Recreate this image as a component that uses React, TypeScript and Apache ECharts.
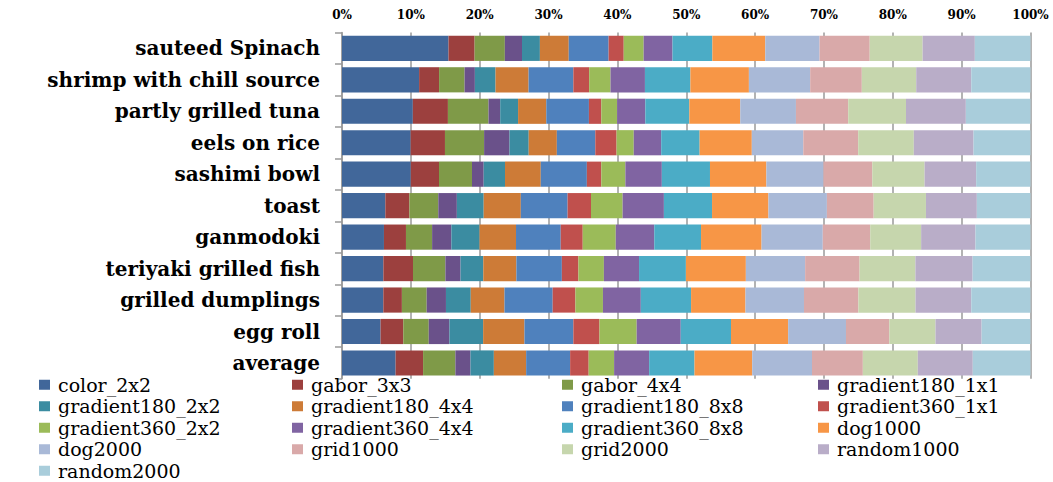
import React, { useEffect, useRef } from "react";
import * as echarts from "echarts";

const categories = [
  "sauteed Spinach",
  "shrimp with chill source",
  "partly grilled tuna",
  "eels on rice",
  "sashimi bowl",
  "toast",
  "ganmodoki",
  "teriyaki grilled fish",
  "grilled dumplings",
  "egg roll",
  "average",
];

const seriesNames = [
  "color_2x2", "gabor_3x3", "gabor_4x4", "gradient180_1x1",
  "gradient180_2x2", "gradient180_4x4", "gradient180_8x8", "gradient360_1x1",
  "gradient360_2x2", "gradient360_4x4", "gradient360_8x8", "dog1000",
  "dog2000", "grid1000", "grid2000", "random1000",
  "random2000",
];

const color_2x2 = [15.5, 11.2, 10.3, 10.0, 10.0, 6.3, 6.1, 6.0, 6.0, 5.6, 7.8];
const gabor_3x3 = [3.8, 2.9, 5.1, 5.0, 4.1, 3.5, 3.2, 4.3, 2.7, 3.3, 4.0];
const gabor_4x4 = [4.4, 3.7, 5.9, 5.7, 4.8, 4.2, 3.8, 4.7, 3.6, 3.7, 4.7];
const gradient180_1x1 = [2.5, 1.5, 1.7, 3.7, 1.7, 2.7, 2.8, 2.2, 2.8, 3.0, 2.2];
const gradient180_2x2 = [2.6, 3.0, 2.6, 2.8, 3.1, 3.9, 4.1, 3.3, 3.6, 4.9, 3.4];
const gradient180_4x4 = [4.2, 4.8, 4.1, 4.1, 5.2, 5.4, 5.3, 4.8, 4.9, 6.0, 4.7];
const gradient180_8x8 = [5.8, 6.5, 6.2, 5.6, 6.7, 6.8, 6.5, 6.6, 7.0, 7.1, 6.4];
const gradient360_1x1 = [2.2, 2.3, 1.8, 3.1, 2.1, 3.4, 3.2, 2.4, 3.3, 3.8, 2.7];
const gradient360_2x2 = [2.9, 3.1, 2.3, 2.5, 3.5, 4.6, 4.8, 3.7, 4.0, 5.4, 3.7];
const gradient360_4x4 = [4.2, 5.0, 4.1, 4.0, 5.3, 6.0, 5.6, 5.1, 5.5, 6.4, 5.1];
const gradient360_8x8 = [5.8, 6.6, 6.4, 5.6, 7.0, 7.0, 6.8, 6.8, 7.3, 7.3, 6.6];
const dog1000 = [7.7, 8.5, 7.4, 7.6, 8.2, 8.2, 8.8, 8.7, 7.9, 8.3, 8.4];
const dog2000 = [7.9, 8.9, 8.1, 7.5, 8.3, 8.5, 8.9, 8.6, 8.5, 8.4, 8.7];
const grid1000 = [7.3, 7.5, 7.6, 8.0, 7.1, 6.8, 6.9, 7.9, 7.9, 6.3, 7.4];
const grid2000 = [7.7, 7.9, 8.4, 8.1, 7.6, 7.6, 7.4, 8.1, 8.3, 6.7, 8.0];
const random1000 = [7.6, 8.0, 8.7, 8.7, 7.5, 7.4, 7.9, 8.3, 8.1, 6.7, 8.0];
const random2000 = [8.1, 8.6, 9.4, 8.3, 7.9, 7.8, 8.0, 8.4, 8.6, 7.1, 8.4];

const seriesValues = [
  color_2x2, gabor_3x3, gabor_4x4, gradient180_1x1,
  gradient180_2x2, gradient180_4x4, gradient180_8x8, gradient360_1x1,
  gradient360_2x2, gradient360_4x4, gradient360_8x8, dog1000,
  dog2000, grid1000, grid2000, random1000,
  random2000,
];

const colors = [
  "#41679A", "#9C403E", "#7F9A48", "#6A518A",
  "#3B8CA1", "#CD7B37", "#4F81BD", "#C0504D",
  "#9BBB59", "#8064A2", "#4BACC6", "#F79646",
  "#A9B9D7", "#D9A9A9", "#C6D6AD", "#B9ADC8",
  "#A9CDDB",
];

const xTicks = [0, 10, 20, 30, 40, 50, 60, 70, 80, 90, 100];

const legendColumns = [
  ["color_2x2", "gradient180_2x2", "gradient360_2x2", "dog2000", "random2000"],
  ["gabor_3x3", "gradient180_4x4", "gradient360_4x4", "grid1000"],
  ["gabor_4x4", "gradient180_8x8", "gradient360_8x8", "grid2000"],
  ["gradient180_1x1", "gradient360_1x1", "dog1000", "random1000"],
];
const legendLefts = [39, 292, 562, 818];

export default function App() {
  const ref = useRef<HTMLDivElement>(null);

  useEffect(() => {
    if (!ref.current) return;
    const chart = echarts.init(ref.current, null, { renderer: "svg" });

    const totals = categories.map((_, i) =>
      seriesValues.reduce((s, arr) => s + arr[i], 0)
    );

    const serif = "DejaVu Serif";

    const option: any = {
      animation: false,
      color: colors,
      grid: { left: 342, right: 22.5, top: 32.6, bottom: 103.3, containLabel: false },
      xAxis: {
        type: "value",
        position: "top",
        min: xTicks[0],
        max: xTicks[xTicks.length - 1],
        interval: 10,
        axisLine: { show: false },
        axisTick: { show: false },
        splitLine: { show: true, lineStyle: { color: "#9a9a9a", width: 1.5 } },
        axisLabel: {
          margin: 12,
          formatter: "{value}%",
          fontFamily: serif,
          fontWeight: "bold",
          fontSize: 12,
          color: "#000",
        },
      },
      yAxis: {
        type: "category",
        data: categories,
        inverse: true,
        axisLine: { show: true, lineStyle: { color: "#9a9a9a", width: 1.5 } },
        axisTick: { show: true, length: 7, lineStyle: { color: "#9a9a9a", width: 1.5 } },
        axisLabel: {
          margin: 22,
          fontFamily: serif,
          fontWeight: "bold",
          fontSize: 20,
          color: "#000",
        },
      },
      legend: legendColumns.map((col, ci) => ({
        orient: "vertical",
        left: legendLefts[ci],
        top: 374,
        height: 120,
        data: col,
        icon: "rect",
        itemWidth: 11,
        itemHeight: 10,
        itemGap: 0,
        padding: 0,
        textStyle: {
          fontFamily: serif,
          fontSize: 19,
          lineHeight: 21.5,
          color: "#000",
          padding: [0, 0, 0, 3],
        },
        selectedMode: false,
      })),
      series: seriesNames.map((name, si) => ({
        name,
        type: "bar",
        stack: "total",
        barCategoryGap: "20%",
        data: seriesValues[si].map((v, i) => (v / totals[i]) * 100),
        itemStyle: { color: colors[si] },
      })),
    };

    chart.setOption(option);
    return () => chart.dispose();
  }, []);

  return (
    <div
      ref={ref}
      style={{ position: "fixed", left: 0, top: 0, width: 1053, height: 482, background: "#fff" }}
    />
  );
}
